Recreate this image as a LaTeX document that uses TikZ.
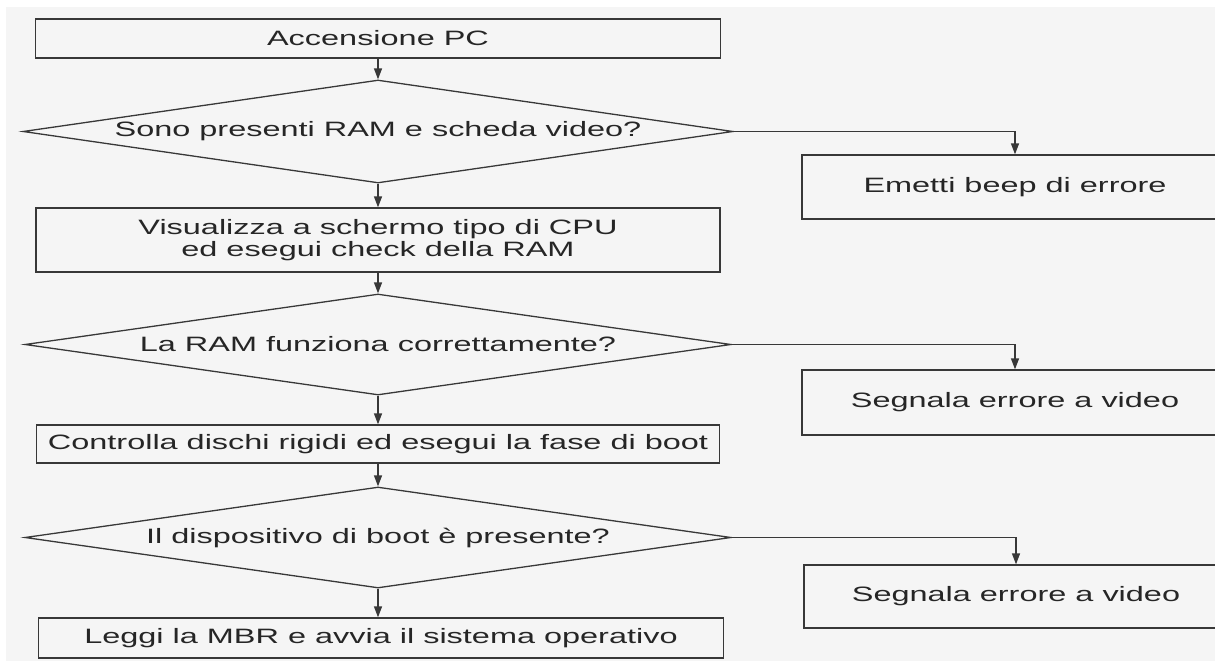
\documentclass[tikz,border=0pt]{standalone}
\usepackage{fontspec}
\setmainfont[FakeStretch=1.56]{Liberation Sans}
\usetikzlibrary{shapes.geometric,arrows.meta}
\begin{document}
\begin{tikzpicture}[x=1pt,y=-1pt,
  ink/.style={draw=black!78, line width=1.3pt},
  label/.style={font=\fontsize{20.8}{22.5}\selectfont, text=black!85, align=center},
  stepbox/.style={ink, label, rectangle, inner sep=0pt},
  test/.style={ink, label, diamond, inner sep=0pt, shape aspect=6.9},
  flow/.style={draw=black!78, line width=1.3pt, -{Triangle[width=8pt,length=11pt]}}
]
\useasboundingbox (0,0) rectangle (1215,661);
\clip (0,0) rectangle (1215,661);
% paper
\fill[black!4] (6,7) rectangle (1215,661);

% main column
\node[stepbox, minimum width=685pt, minimum height=39pt] (b1) at (378,38.5) {Accensione PC};
\node[test, minimum width=710pt, minimum height=103pt] (d1) at (378,131.5) {Sono presenti RAM e scheda video?};
\node[stepbox, minimum width=684pt, minimum height=64pt] (b2) at (378,240) {Visualizza a schermo tipo di CPU\\ed esegui check della RAM};
\node[test, minimum width=706pt, minimum height=101pt] (d2) at (378,344.5) {La RAM funziona correttamente?};
\node[stepbox, minimum width=683pt, minimum height=38pt] (b3) at (378,444) {Controlla dischi rigidi ed esegui la fase di boot};
\node[test, minimum width=706pt, minimum height=101pt] (d3) at (378,537.5) {Il dispositivo di boot è presente?};
\node[stepbox, minimum width=685pt, minimum height=40pt] (b4) at (381,638) {Leggi la MBR e avvia il sistema operativo};

% error column
\node[stepbox, minimum width=426pt, minimum height=64pt] (e1) at (1015,187) {Emetti beep di errore};
\node[stepbox, minimum width=426pt, minimum height=65pt] (e2) at (1015,402.5) {Segnala errore a video};
\node[stepbox, minimum width=424pt, minimum height=63pt] (e3) at (1016,596.5) {Segnala errore a video};

% connectors
\draw[flow] (b1) -- (d1);
\draw[flow] (d1) -- (b2);
\draw[flow] (b2) -- (d2);
\draw[flow] (d2) -- (b3);
\draw[flow] (b3) -- (d3);
\draw[flow] (d3.south) -- (d3.south |- b4.north);
\draw[flow] (d1.east) -| (e1);
\draw[flow] (d2.east) -| (e2);
\draw[flow] (d3.east) -| (e3);
\end{tikzpicture}
\end{document}
